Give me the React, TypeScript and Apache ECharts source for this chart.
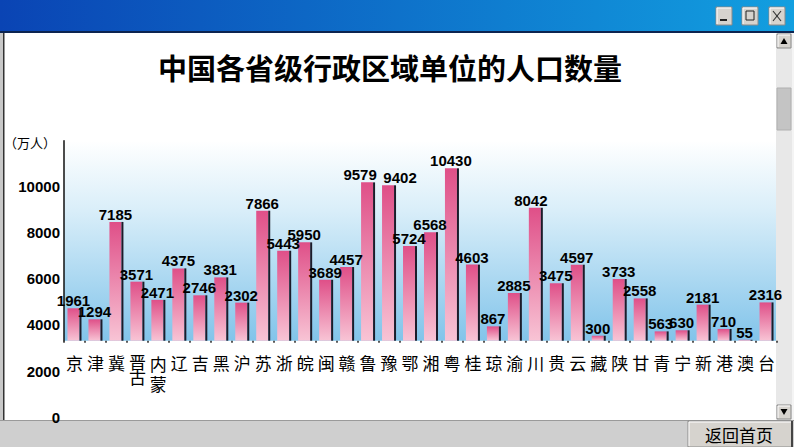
import React, { useEffect, useRef } from "react";
import * as echarts from "echarts";

const categories = ["京", "津", "冀", "晋", "内蒙古", "辽", "吉", "黑", "沪", "苏", "浙", "皖", "闽", "赣", "鲁", "豫", "鄂", "湘", "粤", "桂", "琼", "渝", "川", "贵", "云", "藏", "陕", "甘", "青", "宁", "新", "港", "澳", "台"];
const population = [1961, 1294, 7185, 3571, 2471, 4375, 2746, 3831, 2302, 7866, 5443, 5950, 3689, 4457, 9579, 9402, 5724, 6568, 10430, 4603, 867, 2885, 8042, 3475, 4597, 300, 3733, 2558, 563, 630, 2181, 710, 55, 2316];
const tickMin = 0;
const tickMax = 10000;
const tickStep = 2000;
const titleText = "中国各省级行政区域单位的人口数量";
const unitText = "（万人）";
const buttonText = "返回首页";

// small horizontal nudges of a few value labels, as in the reference picture
const labelNudge: Record<string, number> = { 鲁: -7, 豫: 12, 川: -4 };

export default function App() {
  const ref = useRef<HTMLDivElement>(null);
  useEffect(() => {
    const chart = echarts.init(ref.current!, null, { renderer: "svg" });
    const G = echarts.graphic;
    const btn = (x: number, y: number, w: number, h: number) => [
      { type: "rect", shape: { x, y, width: w, height: h }, style: { fill: "#d6d3ce", stroke: "#8a8a8a", lineWidth: 1 } },
      { type: "polyline", shape: { points: [[x + 1, y + h - 1], [x + 1, y + 1], [x + w - 1, y + 1]] }, style: { stroke: "#ffffff", lineWidth: 1, fill: null } },
    ];
    const option: any = {
      animation: false,
      backgroundColor: "#ffffff",
      title: {
        text: titleText,
        left: 390,
        top: 52,
        textAlign: "center",
        padding: 0,
        textStyle: { fontFamily: "Noto Sans CJK SC", fontWeight: "bold", fontSize: 29, color: "#000" },
      },
      grid: [
        {
          left: 64, right: 17, top: 140.7, bottom: 106.3, show: true, borderWidth: 0,
          backgroundColor: new G.LinearGradient(0, 0, 0, 1, [
            { offset: 0, color: "#ffffff" },
            { offset: 0.35, color: "#d9eef9" },
            { offset: 1, color: "#82c4ea" },
          ]),
        },
        { left: 64, right: 17, top: 186, bottom: 29.7, show: false },
      ],
      xAxis: [
        {
          type: "category",
          gridIndex: 0,
          data: categories.map((c) =>
            c === "晋" ? { value: c, textStyle: { lineHeight: 15 } } : c === "内蒙古" ? { value: c, textStyle: { lineHeight: 20 } } : c
          ),
          axisLine: { show: false },
          axisTick: { show: true, length: 2, lineStyle: { color: "#222", width: 1.5 } },
          axisLabel: {
            interval: 0,
            margin: 13,
            fontSize: 17,
            color: "#000",
            fontFamily: "Noto Sans CJK SC",
            formatter: (v: string) => (v === "内蒙古" ? "内\n蒙" : v === "晋" ? "晋\n古" : v),
          },
        },
        { type: "value", gridIndex: 1, show: false, min: 0, max: 1 },
      ],
      yAxis: [
        {
          type: "value",
          gridIndex: 0,
          min: 0,
          max: 12100,
          axisLabel: { show: false },
          axisTick: { show: false },
          splitLine: { show: false },
          axisLine: { show: true, lineStyle: { color: "#111", width: 1.5 } },
        },
        {
          type: "value",
          gridIndex: 1,
          min: tickMin,
          max: tickMax,
          interval: tickStep,
          axisLine: { show: false },
          axisTick: { show: false },
          splitLine: { show: false },
          axisLabel: {
            margin: 4, fontSize: 15, fontWeight: "bold", color: "#000", fontFamily: "Liberation Sans",
            formatter: (v: number) => String(v),
          },
        },
      ],
      series: [
        {
          type: "bar",
          xAxisIndex: 0,
          yAxisIndex: 0,
          data: population.map((v, i) =>
            labelNudge[categories[i]] !== undefined
              ? { value: v, label: { offset: [labelNudge[categories[i]], 0] } }
              : v
          ),
          barWidth: 12,
          barGap: 0,
          itemStyle: {
            color: new G.LinearGradient(0, 0, 0, 1, [
              { offset: 0, color: "#df4f88" },
              { offset: 1, color: "#f8c4d5" },
            ]),
          },
          label: {
            show: true,
            position: "top",
            distance: 0,
            fontSize: 15,
            fontWeight: "bold",
            color: "#000",
            fontFamily: "Liberation Sans",
          },
        },
        {
          type: "bar",
          xAxisIndex: 0,
          yAxisIndex: 0,
          data: population,
          barWidth: 2,
          barGap: 0,
          silent: true,
          itemStyle: { color: "#1c1c2a" },
        },
        { type: "scatter", xAxisIndex: 1, yAxisIndex: 1, data: [] },
      ],
      graphic: [
        {
          type: "rect",
          shape: { x: 0, y: 0, width: 794, height: 31 },
          style: {
            fill: new G.LinearGradient(0, 0, 1, 0, [
              { offset: 0, color: "#0a44b4" },
              { offset: 1, color: "#129fe0" },
            ]),
          },
        },
        { type: "rect", shape: { x: 0, y: 31, width: 794, height: 2 }, style: { fill: "#0c2450" } },
        ...btn(716, 7, 16, 18),
        ...btn(742, 7, 16, 18),
        ...btn(769, 7, 16, 18),
        { type: "rect", shape: { x: 720, y: 19, width: 7, height: 2 }, style: { fill: "#222" } },
        { type: "rect", shape: { x: 746, y: 11, width: 8, height: 9 }, style: { fill: null, stroke: "#222", lineWidth: 1 } },
        { type: "line", shape: { x1: 773, y1: 11, x2: 781, y2: 21 }, style: { stroke: "#333", lineWidth: 1.2 } },
        { type: "line", shape: { x1: 781, y1: 11, x2: 773, y2: 21 }, style: { stroke: "#333", lineWidth: 1.2 } },
        { type: "rect", shape: { x: 0, y: 33, width: 3, height: 387 }, style: { fill: "#c8c8c8" } },
        { type: "rect", shape: { x: 3, y: 33, width: 1.5, height: 387 }, style: { fill: "#333" } },
        { type: "rect", shape: { x: 776, y: 33, width: 16, height: 387 }, style: { fill: "#e8e8e8" } },
        { type: "rect", shape: { x: 792, y: 33, width: 2, height: 387 }, style: { fill: "#f4f4f4" } },
        ...btn(777, 34, 14, 14),
        { type: "polygon", shape: { points: [[780.5, 44], [787.5, 44], [784, 38]] }, style: { fill: "#000" } },
        { type: "rect", shape: { x: 777, y: 88, width: 14, height: 42 }, style: { fill: "#c4c4c4", stroke: "#b0b0b0", lineWidth: 1 } },
        ...btn(777, 405, 14, 14),
        { type: "polygon", shape: { points: [[780.5, 409], [787.5, 409], [784, 415]] }, style: { fill: "#000" } },
        { type: "rect", shape: { x: 0, y: 420, width: 794, height: 27 }, style: { fill: "#cfcfcf" } },
        { type: "rect", shape: { x: 0, y: 420, width: 794, height: 1 }, style: { fill: "#9a9a9a" } },
        ...btn(688, 421, 104, 26),
        { type: "rect", shape: { x: 791, y: 421, width: 2, height: 26 }, style: { fill: "#444" } },
        {
          type: "text",
          x: 739,
          y: 434.5,
          style: { text: buttonText, fontSize: 17, fontFamily: "Noto Sans CJK SC", fill: "#000", align: "center", verticalAlign: "middle" },
        },
        {
          type: "text",
          x: 4,
          y: 142,
          style: { text: unitText, fontSize: 13, fontFamily: "Noto Sans CJK SC", fill: "#000", align: "left", verticalAlign: "middle" },
        },
      ],
    };
    chart.setOption(option);
    return () => chart.dispose();
  }, []);
  return <div ref={ref} style={{ position: "fixed", left: 0, top: 0, width: 794, height: 447 }} />;
}
